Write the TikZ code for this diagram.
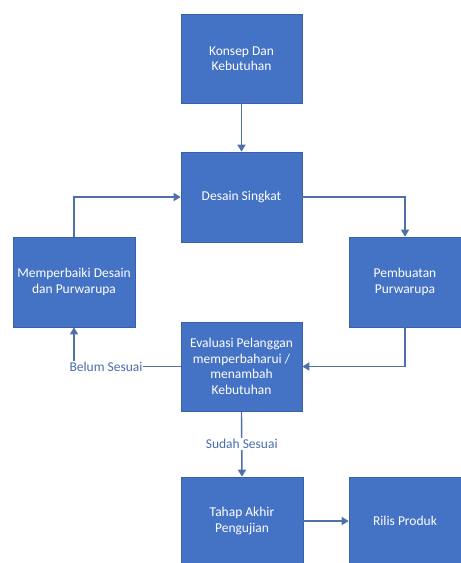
\documentclass[tikz,border=0pt]{standalone}
\usepackage{fontspec}
\setmainfont{Carlito}
\usetikzlibrary{arrows.meta}
\definecolor{boxblue}{HTML}{4472C4}
\definecolor{linec}{HTML}{5070A8}
\definecolor{labelc}{HTML}{4A6DB0}
\begin{document}
\begin{tikzpicture}[x=1pt,y=-1pt,
  box/.style={draw=boxblue!85!black,line width=0.6pt,fill=boxblue,text=white,font=\fontsize{13.5}{15.5}\selectfont,align=center,inner sep=0pt},
  conn/.style={draw=linec,line width=1.4pt,-{Triangle[length=7pt,width=8pt]}},
  lbl/.style={fill=white,text=labelc,font=\fontsize{13.5}{15.5}\selectfont,inner sep=1pt}]
\useasboundingbox (0,0) rectangle (461,563);
\node[box,minimum width=121pt,minimum height=89pt] (konsep) at (241.5,58.5) {Konsep Dan\\Kebutuhan};
\node[box,minimum width=121pt,minimum height=90pt] (desain) at (241.5,197) {Desain Singkat};
\node[box,minimum width=122pt,minimum height=90pt] (perbaiki) at (74,282) {Memperbaiki Desain\\dan Purwarupa};
\node[box,minimum width=112pt,minimum height=90pt] (purwarupa) at (405,282) {Pembuatan\\Purwarupa};
\node[box,minimum width=121pt,minimum height=89pt] (evaluasi) at (241.5,366.5) {Evaluasi Pelanggan\\memperbaharui /\\menambah\\Kebutuhan};
\node[box,minimum width=122pt,minimum height=88pt] (tahap) at (242,521) {Tahap Akhir\\Pengujian};
\node[box,minimum width=112pt,minimum height=88pt] (rilis) at (405,521) {Rilis Produk};
\draw[conn] (konsep) -- (desain);
\draw[conn] (perbaiki.north) |- (desain.west);
\draw[conn] (desain.east) -| (purwarupa.north);
\draw[conn] (purwarupa.south) |- (evaluasi.east);
\draw[conn] (evaluasi.west) -| (perbaiki.south) node[lbl,pos=0.35] {Belum Sesuai};
\draw[conn] (evaluasi.south) -- node[lbl] {Sudah Sesuai} (tahap.north);
\draw[conn] (tahap) -- (rilis);
\end{tikzpicture}
\end{document}
